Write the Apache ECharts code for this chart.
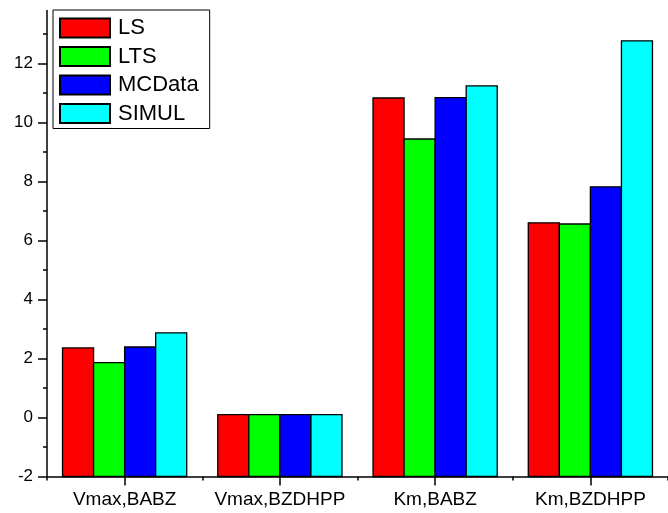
<!DOCTYPE html>
<html>
<head>
<meta charset="utf-8">
<title>Parameter estimates</title>
<script src="https://cdn.jsdelivr.net/npm/echarts@6/dist/echarts.min.js"></script>
<style>
  html, body { margin: 0; padding: 0; background: #fff; }
  #chart { width: 668px; height: 513px; }
</style>
</head>
<body>
<div id="chart"></div>
<script>
// Categories and estimates per method
const categories = ['Vmax,BABZ', 'Vmax,BZDHPP', 'Km,BABZ', 'Km,BZDHPP'];
const seriesNames = ['LS', 'LTS', 'MCData', 'SIMUL'];
const ls     = [2.36, 0.10, 10.83, 6.60];
const lts    = [1.86, 0.10, 9.44, 6.56];
const mcdata = [2.39, 0.10, 10.84, 7.82];
const simul  = [2.87, 0.10, 11.24, 12.77];

// Y axis ticks
const majorTicks = [-2, 0, 2, 4, 6, 8, 10, 12];
const minorTicks = [-1, 1, 3, 5, 7, 9, 11, 13];
const Y_MIN = -2;
const Y_MAX = 13.8;

const colors = ['#FF0000', '#00FF00', '#0000FF', '#00FFFF'];
const FONT = '"Liberation Sans", Arial, sans-serif';
const GROUP = 0.8; // fraction of a category band covered by the bar group

// Bars rise from the bottom of the value axis
function renderBar(params, api) {
  const cat = api.value(0);
  const v = api.value(1);
  const band = api.size([1, 0])[0];
  const w = band * GROUP / seriesNames.length;
  const center = api.coord([cat, 0])[0];
  const x0 = center - band * GROUP / 2 + params.seriesIndex * w;
  const yTop = api.coord([cat, v])[1];
  const yBase = api.coord([cat, Y_MIN])[1];
  return {
    type: 'rect',
    shape: { x: x0, y: yTop, width: w, height: yBase - yTop },
    style: { fill: api.visual('color'), stroke: '#000', lineWidth: 1.3 }
  };
}

const valueSets = [ls, lts, mcdata, simul];
const series = seriesNames.map((name, i) => ({
  name: name,
  type: 'custom',
  renderItem: renderBar,
  xAxisIndex: 0,
  yAxisIndex: 0,
  itemStyle: { color: colors[i], borderColor: '#000', borderWidth: 1 },
  encode: { x: 0, y: 1 },
  data: valueSets[i].map((v, c) => [c, v])
}));

const chart = echarts.init(document.getElementById('chart'), null, { renderer: 'canvas' });
chart.setOption({
  animation: false,
  backgroundColor: '#fff',
  grid: { left: 47, right: -8, top: 10.4, bottom: 36.5, containLabel: false },
  legend: {
    orient: 'vertical',
    left: 53,
    top: 10,
    data: seriesNames,
    icon: 'rect',
    itemWidth: 50,
    itemHeight: 19,
    itemGap: 6.5,
    padding: [7, 11, 4, 6],
    borderColor: '#000',
    borderWidth: 1,
    textStyle: { fontFamily: FONT, fontSize: 22, color: '#000', padding: [0, 0, 0, 3] }
  },
  xAxis: [
    {
      type: 'category',
      data: categories,
      position: 'bottom',
      axisLine: { show: true, onZero: false, lineStyle: { color: '#000', width: 1.5 } },
      axisTick: { show: true, alignWithLabel: true, length: 9, lineStyle: { color: '#000', width: 1.5 } },
      axisLabel: { interval: 0, fontFamily: FONT, fontSize: 19, color: '#000', margin: 14 },
      splitLine: { show: false }
    },
    {
      type: 'category',
      data: categories,
      position: 'bottom',
      axisLine: { show: false, onZero: false },
      axisTick: { show: true, interval: 0, length: 4, lineStyle: { color: '#000', width: 1.5 } },
      axisLabel: { show: false },
      splitLine: { show: false }
    }
  ],
  yAxis: [
    {
      type: 'value',
      min: Y_MIN,
      max: Y_MAX,
      position: 'left',
      axisLine: { show: true, onZero: false, lineStyle: { color: '#000', width: 1.5 } },
      axisTick: { show: true, length: 9, customValues: majorTicks, lineStyle: { color: '#000', width: 1.5 } },
      axisLabel: { customValues: majorTicks, fontFamily: FONT, fontSize: 17, color: '#000', margin: 14 },
      splitLine: { show: false }
    },
    {
      type: 'value',
      min: Y_MIN,
      max: Y_MAX,
      position: 'left',
      axisLine: { show: false, onZero: false },
      axisTick: { show: true, length: 4, customValues: minorTicks, lineStyle: { color: '#000', width: 1.5 } },
      axisLabel: { show: false, customValues: minorTicks },
      splitLine: { show: false }
    }
  ],
  series: series
});
</script>
</body>
</html>
